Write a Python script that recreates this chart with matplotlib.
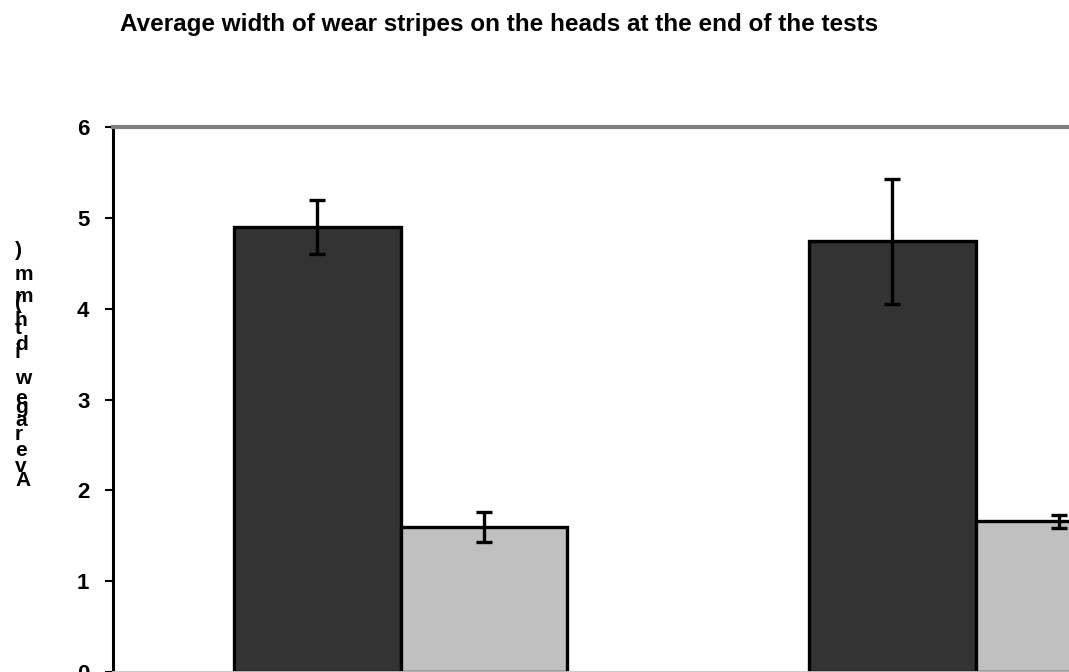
import numpy as np
import matplotlib.pyplot as plt

# data
groups = [0, 1]
dark_vals = [4.90, 4.75]
dark_err_lo = [0.30, 0.70]
dark_err_hi = [0.30, 0.68]
light_vals = [1.60, 1.66]
light_err_lo = [0.17, 0.07]
light_err_hi = [0.16, 0.07]

title = "Average width of wear stripes on the heads at the end of the tests"
ylabel = "Average width (mm)"
# vertical pixel centres of the (unrotated) ylabel glyphs, bottom char first
label_y = [480, 467, 451, 434, 420, 408, 398, None, 379, 352, 344, 328, 320, None, 303, 297, 274, 250]

plt.rcParams['font.family'] = ['Liberation Sans', 'DejaVu Sans']
plt.rcParams['font.weight'] = 'bold'

W, H = 1069, 672
fig = plt.figure(figsize=(W / 100, H / 100), dpi=100)
ax = fig.add_axes([113 / W, 0, 1150 / W, 545 / H])

w = 0.29
x = np.array(groups)
ekw = dict(ecolor="black", elinewidth=2.4, capsize=5.5, capthick=2.4)
ax.bar(x - w / 2, dark_vals, w, color="#333333", edgecolor="black", linewidth=2.4,
       yerr=[dark_err_lo, dark_err_hi], error_kw=ekw)
ax.bar(x + w / 2, light_vals, w, color="#c0c0c0", edgecolor="black", linewidth=2.4,
       yerr=[light_err_lo, light_err_hi], error_kw=ekw)

ax.set_xlim(-0.5, 1.5)
ax.set_ylim(0, 6)
ax.set_yticks(range(7))
ax.set_xticks([])
ax.tick_params(axis="y", length=6, width=1.5, labelsize=16, pad=11)
for t in ax.get_yticklabels():
    t.set_fontweight("bold")

ax.spines["left"].set_linewidth(2.2)
ax.spines["left"].set_color("black")
ax.spines["top"].set_linewidth(3)
ax.spines["top"].set_color("#808080")
ax.spines["bottom"].set_linewidth(2)
ax.spines["bottom"].set_color("#c8c8c8")
ax.spines["right"].set_visible(False)

fig.text(120 / W, 1 - 31 / H, title, fontsize=17.5, fontweight="bold", ha="left", va="baseline")

# scrambled vertical axis label, as in the original
for ch, yy in zip(ylabel, label_y):
    if yy is None or ch == " ":
        continue
    fig.text(15 / W, 1 - yy / H, ch, fontsize=15, fontweight="bold", ha="left", va="center")

fig.savefig("out.png", dpi=100)
